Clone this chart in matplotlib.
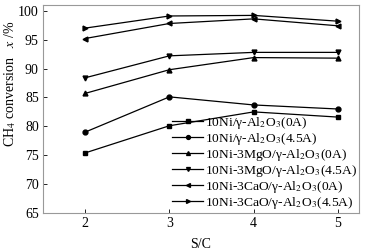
import matplotlib.pyplot as plt

plt.rcParams['font.family'] = 'Liberation Serif'
plt.rcParams['mathtext.fontset'] = 'stix'

sc = [2, 3, 4, 5]
ni_0a = [75.4, 80.1, 82.5, 81.6]
ni_45a = [79.0, 85.1, 83.7, 83.0]
mgo_0a = [85.7, 89.8, 91.9, 91.8]
mgo_45a = [88.4, 92.2, 92.8, 92.8]
cao_0a = [95.2, 97.8, 98.6, 97.4]
cao_45a = [97.0, 99.1, 99.2, 98.2]

series = [
    (ni_0a, 's', '10Ni/γ-Al$_2$O$_3$(0A)'),
    (ni_45a, 'o', '10Ni/γ-Al$_2$O$_3$(4.5A)'),
    (mgo_0a, '^', '10Ni-3MgO/γ-Al$_2$O$_3$(0A)'),
    (mgo_45a, 'v', '10Ni-3MgO/γ-Al$_2$O$_3$(4.5A)'),
    (cao_0a, '<', '10Ni-3CaO/γ-Al$_2$O$_3$(0A)'),
    (cao_45a, '>', '10Ni-3CaO/γ-Al$_2$O$_3$(4.5A)'),
]

fig = plt.figure(figsize=(3.67, 2.5), dpi=100)
ax = fig.add_axes([43 / 367, 1 - 213 / 250, (359 - 43) / 367, (213 - 5) / 250])

for ys, m, lab in series:
    ax.plot(sc, ys, c='black', lw=0.9, marker=m, ms=3.5, label=lab)

ax.set_xlim(1.5, 5.25)
ax.set_ylim(65, 101)
ax.set_xticks(sc)
ax.set_yticks([65, 70, 75, 80, 85, 90, 95, 100])
ax.tick_params(direction='in', labelsize=10, length=3, width=0.6, pad=3)
for s in ax.spines.values():
    s.set_color('#999999')
    s.set_linewidth(0.8)

ax.set_xlabel('S/C', fontsize=10, labelpad=6)
ax.set_ylabel(r'CH$_4$ conversion   $x$ /%', fontsize=10)
ax.yaxis.set_label_coords(-0.078, 0.62)

ax.legend(loc='lower right', frameon=False, fontsize=9.7, handlelength=2.3,
          handletextpad=0.1, labelspacing=0.0, borderaxespad=0.05,
          borderpad=0.1, markerscale=0.8, bbox_to_anchor=(1.0, 0.0))

fig.savefig('out.png', dpi=100)
